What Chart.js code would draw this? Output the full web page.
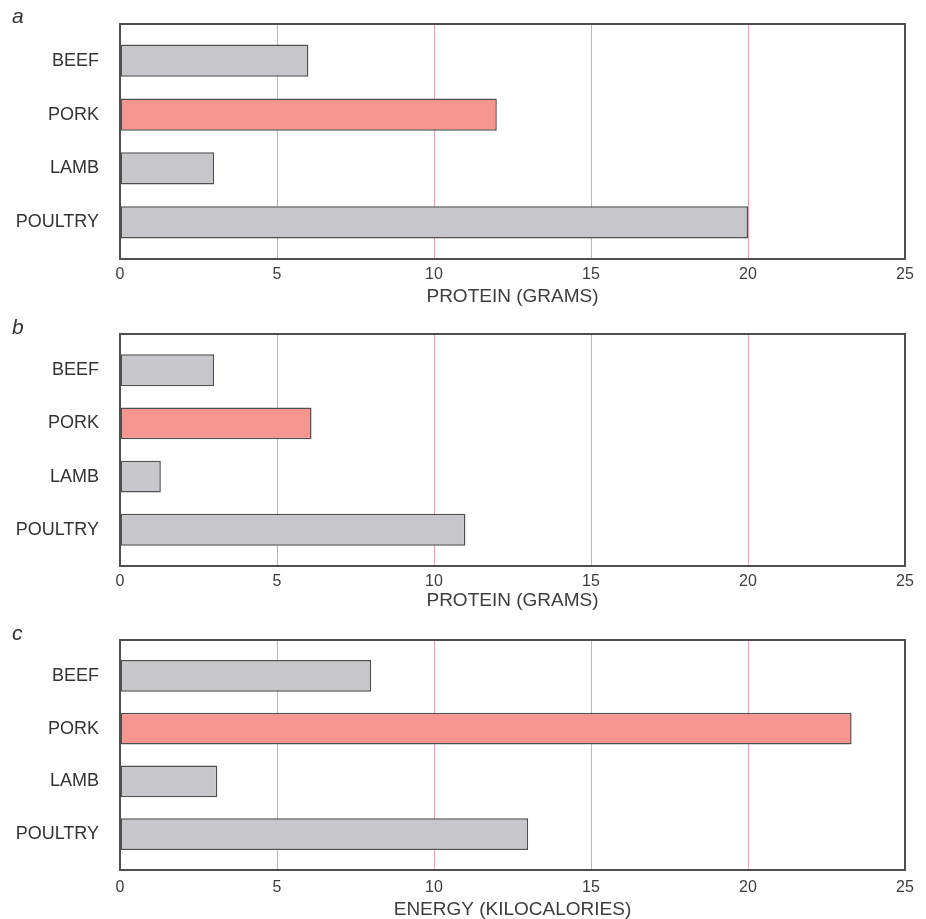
<!DOCTYPE html>
<html>
<head>
<meta charset="utf-8">
<script src="https://cdn.jsdelivr.net/npm/chart.js@4.4.1/dist/chart.umd.min.js"></script>
<style>
  html, body { margin: 0; padding: 0; background: #ffffff; }
  #wrap { position: relative; width: 926px; height: 919px; overflow: hidden; background: #ffffff; }
  #wrap canvas { position: absolute; left: 0; }
  .tag { position: absolute; left: 12px; font: italic 21px "Liberation Sans", Arial, sans-serif; color: #333; line-height: 1; }
</style>
</head>
<body>
<div id="wrap">
  <canvas id="panelA" width="926" height="310" style="top:0px"></canvas>
  <canvas id="panelB" width="926" height="305" style="top:310px"></canvas>
  <canvas id="panelC" width="926" height="304" style="top:615px"></canvas>
  <div class="tag" id="tagA" style="top:5px"></div>
  <div class="tag" id="tagB" style="top:316px"></div>
  <div class="tag" id="tagC" style="top:622px"></div>
</div>
<script>
// Meat categories, top to bottom
const meats = ['BEEF', 'PORK', 'LAMB', 'POULTRY'];
const highlighted = 'PORK';

// a: protein (grams)
const proteinA = [6, 12, 3, 20];
// b: protein (grams)
const proteinB = [3, 6.1, 1.3, 11];
// c: energy (kilocalories)
const energyC = [8, 23.3, 3.1, 13];

const xTicks = [0, 5, 10, 15, 20, 25];
const axisTitles = ['PROTEIN (GRAMS)', 'PROTEIN (GRAMS)', 'ENERGY (KILOCALORIES)'];
const panelLetters = ['a', 'b', 'c'];

const FONT = '"Liberation Sans", Arial, Helvetica, sans-serif';
const GRAY_FILL = '#c6c6cb';
const PINK_FILL = '#f5958f';
const EDGE = '#4f4f4f';
const GRID = '#e8a2b0';

// Outline drawn around each plot area
const framePlugin = {
  id: 'frame',
  afterDatasetsDraw(chart) {
    const { ctx, chartArea: a } = chart;
    ctx.save();
    ctx.strokeStyle = EDGE;
    ctx.lineWidth = 2;
    ctx.strokeRect(a.left, a.top, a.right - a.left, a.bottom - a.top);
    ctx.restore();
  }
};

function makePanel(canvasId, values, title, layout) {
  const canvas = document.getElementById(canvasId);
  const H = canvas.height;
  return new Chart(canvas, {
    type: 'bar',
    data: {
      datasets: [{
        data: values.map((v, i) => ({ x: v, y: i })),
        backgroundColor: meats.map(m => m === highlighted ? PINK_FILL : GRAY_FILL),
        borderColor: EDGE,
        borderWidth: 1.5,
        borderSkipped: false,
        categoryPercentage: 1,
        barPercentage: 0.6
      }]
    },
    options: {
      indexAxis: 'y',
      responsive: false,
      animation: false,
      devicePixelRatio: 1,
      layout: { padding: { top: layout.top, left: 0, right: 21, bottom: 0 } },
      plugins: { legend: { display: false }, tooltip: { enabled: false } },
      scales: {
        x: {
          type: 'linear',
          position: 'bottom',
          min: 0,
          max: 25,
          offset: false,
          afterBuildTicks: s => { s.ticks = xTicks.map(v => ({ value: v })); },
          afterFit: s => { s.height = H - layout.bottom; },
          grid: { color: GRID, lineWidth: 1, drawTicks: false, offset: false },
          border: { display: false },
          ticks: { color: '#3d3d3d', padding: layout.tickPad, font: { family: FONT, size: 16 } },
          title: {
            display: true,
            text: title,
            color: '#3d3d3d',
            font: { family: FONT, size: 19, lineHeight: 1 },
            padding: { top: 0, bottom: layout.titlePad }
          }
        },
        y: {
          type: 'linear',
          reverse: true,
          min: -0.68,
          max: 3.68,
          offset: false,
          afterBuildTicks: s => { s.ticks = meats.map((_, i) => ({ value: i })); },
          afterFit: s => { s.width = 120; s.paddingTop = 0; s.paddingBottom = 0; },
          grid: { display: false, drawTicks: false, offset: false },
          border: { display: false },
          ticks: {
            color: '#333333',
            padding: 21,
            font: { family: FONT, size: 18 },
            callback: v => meats[v]
          }
        }
      }
    },
    plugins: [framePlugin]
  });
}

makePanel('panelA', proteinA, axisTitles[0], { top: 24, bottom: 259, tickPad: 6, titlePad: 3.5 });
makePanel('panelB', proteinB, axisTitles[1], { top: 24, bottom: 256, tickPad: 6, titlePad: 4.5 });
makePanel('panelC', energyC, axisTitles[2], { top: 25, bottom: 255, tickPad: 8, titlePad: 0 });

document.getElementById('tagA').textContent = panelLetters[0];
document.getElementById('tagB').textContent = panelLetters[1];
document.getElementById('tagC').textContent = panelLetters[2];
</script>
</body>
</html>
